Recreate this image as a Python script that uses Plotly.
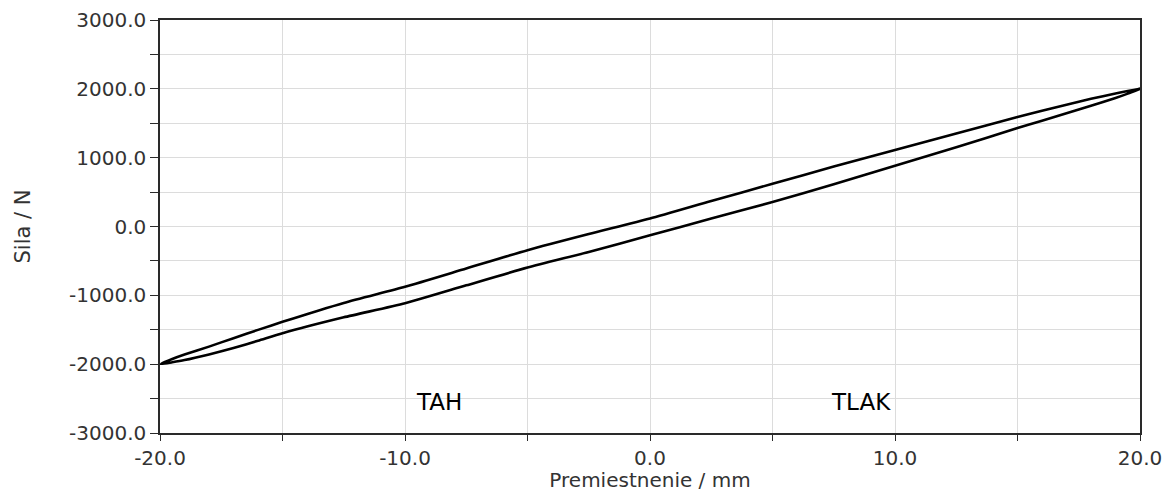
import plotly.graph_objects as go

# Hysteresis loop of the damper: displacement (mm) vs. force (N)
displacement = [-20.0, -19.5, -19.0, -18.0, -17.0, -16.0, -15.0, -12.5, -10.0, -7.5,
                -5.0, -2.5, 0.0, 2.5, 5.0, 7.5, 10.0, 12.5, 15.0, 16.0, 17.0, 18.0,
                19.0, 19.5, 20.0]
force_upper = [-2000, -1925, -1860, -1745, -1622, -1502, -1385, -1110, -875, -610,
               -345, -110, 115, 370, 620, 870, 1110, 1350, 1590, 1680, 1770, 1855,
               1932, 1968, 2000]
force_lower = [-2000, -1972, -1940, -1858, -1765, -1660, -1550, -1320, -1115, -855,
               -597, -370, -128, 115, 355, 615, 884, 1150, 1430, 1535, 1645, 1755,
               1868, 1930, 2000]

x_ticks = [-20, -10, 0, 10, 20]
x_tick_labels = ["-20.0", "-10.0", "0.0", "10.0", "20.0"]
y_ticks = [-3000, -2000, -1000, 0, 1000, 2000, 3000]
y_tick_labels = ["-3000.0", "-2000.0", "-1000.0", "0.0", "1000.0", "2000.0", "3000.0"]

zone_labels = ["TAH", "TLAK"]
zone_x = [-8.6, 8.6]
zone_y = [-2550, -2550]

# closed loop: lower branch outwards, upper branch back
loop_x = displacement + displacement[::-1]
loop_y = force_lower + force_upper[::-1]

FONT = "DejaVu Sans"
GRID = "#dcdcdc"
AXIS = "#2a2a2a"

fig = go.Figure()
fig.add_trace(go.Scatter(
    x=loop_x, y=loop_y, mode="lines",
    line=dict(color="black", width=2.6, shape="spline", smoothing=0.6),
    hoverinfo="skip", showlegend=False,
))

for label, lx, ly in zip(zone_labels, zone_x, zone_y):
    fig.add_annotation(x=lx, y=ly, text=label, showarrow=False,
                       font=dict(family=FONT, size=23, color="black"))

axis_common = dict(
    showline=True, linecolor=AXIS, linewidth=1.5, mirror=True,
    ticks="outside", tickcolor=AXIS, tickwidth=1.2,
    showgrid=True, gridcolor=GRID, gridwidth=1,
    zeroline=False, automargin=False,
    tickfont=dict(family=FONT, size=20, color="#333333"),
    tickmode="array",
)

fig.update_xaxes(
    **axis_common,
    range=[-20, 20], tickvals=x_ticks, ticktext=x_tick_labels, ticklen=6,
    minor=dict(dtick=5, tick0=0, ticks="outside", ticklen=6, tickcolor=AXIS,
               showgrid=True, gridcolor=GRID),
    title=dict(text="Premiestnenie / mm", standoff=4,
               font=dict(family=FONT, size=20, color="#333333")),
)
fig.update_yaxes(
    **axis_common,
    range=[-3000, 3000], tickvals=y_ticks, ticktext=y_tick_labels, ticklen=8,
    minor=dict(dtick=500, tick0=0, ticks="outside", ticklen=8, tickcolor=AXIS,
               showgrid=True, gridcolor=GRID),
    title=dict(text="Sila / N", standoff=33,
               font=dict(family=FONT, size=21, color="#333333")),
)

fig.update_layout(
    width=1168, height=492,
    margin=dict(l=160, r=28, t=20, b=59),
    paper_bgcolor="white", plot_bgcolor="white",
    font=dict(family=FONT, color="#333333"),
)

fig.write_html("out.html")
